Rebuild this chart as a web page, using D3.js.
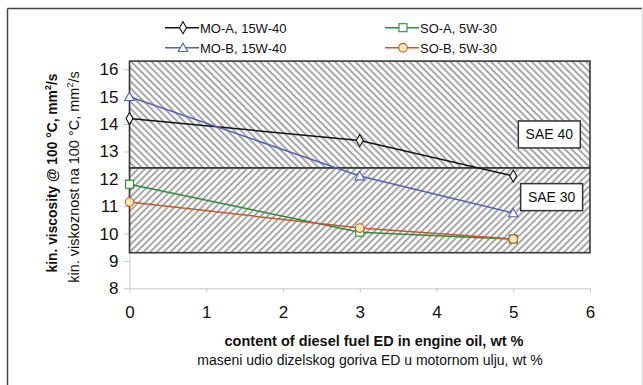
<!DOCTYPE html>
<html>
<head>
<meta charset="utf-8">
<script src="https://cdn.jsdelivr.net/npm/d3@7"></script>
<style>
	body { margin: 0; background: #fff; }
	text { font-family: 'Liberation Sans', Arial, sans-serif; fill: #111; }
</style>
</head>
<body>
<div id="chart"></div>
<script>
// series values (x = wt % of diesel fuel)
const xValues = [0, 3, 5];
const moA = [14.2, 13.4, 12.1];
const moB = [15.0, 12.1, 10.75];
const soA = [11.8, 10.05, 9.8];
const soB = [11.15, 10.2, 9.8];
const seriesNames = ['MO-A, 15W-40', 'MO-B, 15W-40', 'SO-A, 5W-30', 'SO-B, 5W-30'];
const xTicks = [0, 1, 2, 3, 4, 5, 6];
const yTicks = [8, 9, 10, 11, 12, 13, 14, 15, 16];
// SAE grade bands (viscosity limits)
const sae30 = [9.3, 12.4];
const sae40 = [12.4, 16.3];
const bandLabels = ['SAE 30', 'SAE 40'];

var viscChart = function() {
	'use strict';
	let chart = {};
	let svg;
	const width = 643;
	const height = 385;
	const plot = { left: 129.5, right: 590, top: 69.3, bottom: 288.3 };
	const gridColor = '#c8c8c8';
	const hatchColor = '#9a9a9a';
	const borderColor = '#3a3a3a';

	const x = d3.scaleLinear().domain([0, 6]).range([plot.left, plot.right]);
	const y = d3.scaleLinear().domain([8, 16]).range([plot.bottom, plot.top]);

	function drawSvg() {
		d3.selectAll('#chart svg').remove();
		svg = d3.select('#chart').append('svg')
			.attr('width', width)
			.attr('height', height);
		svg.append('rect').attr('width', width).attr('height', height).attr('fill', '#fff');
	}

	function addPattern(id, angle) {
		let defs = svg.select('defs').empty() ? svg.append('defs') : svg.select('defs');
		defs.append('pattern')
			.attr('id', id)
			.attr('patternUnits', 'userSpaceOnUse')
			.attr('width', 4.8).attr('height', 4.8)
			.attr('patternTransform', 'rotate(' + angle + ')')
			.append('line')
			.attr('x1', 1.2).attr('y1', 0)
			.attr('x2', 1.2).attr('y2', 4.8)
			.style('stroke', hatchColor)
			.style('stroke-width', 1.8);
	}

	function drawFrame() {
		svg.append('line').attr('x1', 7.5).attr('y1', 8.5).attr('x2', 642).attr('y2', 8.5)
			.style('stroke', '#444').style('stroke-width', 1.5);
		svg.append('line').attr('x1', 7.5).attr('y1', 8.5).attr('x2', 7.5).attr('y2', height)
			.style('stroke', '#444').style('stroke-width', 1.5);
		svg.append('line').attr('x1', 642).attr('y1', 8.5).attr('x2', 642).attr('y2', height)
			.style('stroke', '#d0d0d0').style('stroke-width', 1);
	}

	function drawAxes() {
		// x axis
		let gx = svg.append('g')
			.attr('transform', 'translate(0,' + plot.bottom + ')')
			.call(d3.axisBottom(x).tickValues(xTicks).tickFormat(d3.format('d'))
				.tickSize(4).tickSizeOuter(0).tickPadding(14));
		// y axis
		let gy = svg.append('g')
			.attr('transform', 'translate(' + plot.left + ',0)')
			.call(d3.axisLeft(y).tickValues(yTicks).tickSize(6).tickSizeOuter(0).tickPadding(5));
		[gx, gy].forEach(function (g) {
			g.select('.domain').style('stroke', gridColor);
			g.selectAll('.tick line').style('stroke', gridColor);
			g.selectAll('.tick text')
				.style('font-size', '17px')
				.style('font-family', "'Liberation Sans', Arial, sans-serif")
				.attr('fill', '#111');
		});
	}

	function drawBands() {
		addPattern('hatch40', -45);
		addPattern('hatch30', 45);
		[[sae40, 'hatch40'], [sae30, 'hatch30']].forEach(function (b) {
			svg.append('rect')
				.attr('x', x(0)).attr('y', y(b[0][1]))
				.attr('width', x(6) - x(0))
				.attr('height', y(b[0][0]) - y(b[0][1]))
				.attr('fill', 'url(#' + b[1] + ')')
				.style('stroke', borderColor)
				.style('stroke-width', 1.6);
		});
	}

	function drawBandLabel(label, cx, cy) {
		const _w = 62;
		const _h = 27;
		svg.append('rect')
			.attr('x', x(cx) - _w / 2).attr('y', y(cy) - _h / 2)
			.attr('width', _w).attr('height', _h)
			.attr('fill', '#fff')
			.style('stroke', '#333').style('stroke-width', 1.5);
		svg.append('text')
			.text(label)
			.attr('x', x(cx)).attr('y', y(cy) + 5)
			.style('text-anchor', 'middle')
			.style('font-size', '14px');
	}

	function marker(g, shape, cx, cy, stroke, fill) {
		if (shape === 'diamond') {
			g.append('path').attr('d', d3.symbol(d3.symbolDiamond, 42)())
				.attr('transform', 'translate(' + cx + ',' + cy + ')');
		} else if (shape === 'triangle') {
			g.append('path').attr('d', d3.symbol(d3.symbolTriangle, 40)())
				.attr('transform', 'translate(' + cx + ',' + (cy + 1) + ')');
		} else if (shape === 'square') {
			g.append('rect').attr('x', cx - 4).attr('y', cy - 4).attr('width', 8).attr('height', 8);
		} else {
			g.append('circle').attr('cx', cx).attr('cy', cy).attr('r', 4.3);
		}
		g.selectAll('*').attr('fill', fill).style('stroke', stroke).style('stroke-width', 1.1);
	}

	function drawSeries(values, color, shape, fill) {
		let line = d3.line().x(function (d, i) { return x(xValues[i]); }).y(function (d) { return y(d); });
		svg.append('path')
			.datum(values)
			.attr('d', line)
			.attr('fill', 'none')
			.style('stroke', color)
			.style('stroke-width', 1.5);
		values.forEach(function (v, i) {
			marker(svg.append('g'), shape, x(xValues[i]), y(v), color, fill);
		});
	}

	function drawLegend(items) {
		items.forEach(function (it) {
			svg.append('line')
				.attr('x1', it.lx).attr('y1', it.ly).attr('x2', it.lx + 34).attr('y2', it.ly)
				.style('stroke', it.color).style('stroke-width', 1.5);
			marker(svg.append('g'), it.shape, it.lx + 18, it.ly, it.color, it.fill);
			svg.append('text')
				.text(it.name)
				.attr('x', it.lx + 35).attr('y', it.ly + 5)
				.style('font-size', '13px');
		});
	}

	function drawTitles() {
		svg.append('text')
			.text('content of diesel fuel ED in engine oil, wt %')
			.attr('x', 374).attr('y', 346)
			.style('text-anchor', 'middle')
			.style('font-size', '14.5px').style('font-weight', 'bold');
		svg.append('text')
			.text('maseni udio dizelskog goriva ED u motornom ulju, wt %')
			.attr('x', 370).attr('y', 365)
			.style('text-anchor', 'middle')
			.style('font-size', '14px');

		let t1 = svg.append('text')
			.attr('transform', 'translate(57,173) rotate(-90)')
			.style('text-anchor', 'middle')
			.style('font-size', '13.8px').style('font-weight', 'bold');
		t1.append('tspan').text('kin. viscosity @ 100 °C, mm');
		t1.append('tspan').text('2').attr('dy', -6).style('font-size', '9px');
		t1.append('tspan').text('/s').attr('dy', 6);

		let t2 = svg.append('text')
			.attr('transform', 'translate(79,177) rotate(-90)')
			.style('text-anchor', 'middle')
			.style('font-size', '14.5px');
		t2.append('tspan').text('kin. viskoznost na 100 °C, mm');
		t2.append('tspan').text('2').attr('dy', -6).style('font-size', '9px');
		t2.append('tspan').text('/s').attr('dy', 6);
	}

	chart.render = function () {
		drawSvg();
		drawFrame();
		drawAxes();
		drawBands();
		drawBandLabel(bandLabels[1], 5.47, 13.62);
		drawBandLabel(bandLabels[0], 5.5, 11.33);
		drawSeries(moA, '#111111', 'diamond', '#f4f4ee');
		drawSeries(moB, '#5561b4', 'triangle', '#ffffff');
		drawSeries(soA, '#2f8a3a', 'square', '#f6f6e8');
		drawSeries(soB, '#c05a30', 'circle', '#f3e7b4');
		drawLegend([
			{ name: seriesNames[0], color: '#111111', shape: 'diamond', fill: '#ffffff', lx: 165, ly: 27.7 },
			{ name: seriesNames[1], color: '#5561b4', shape: 'triangle', fill: '#ffffff', lx: 165, ly: 47.7 },
			{ name: seriesNames[2], color: '#2f8a3a', shape: 'square', fill: '#ffffff', lx: 385, ly: 27.7 },
			{ name: seriesNames[3], color: '#c05a30', shape: 'circle', fill: '#f3e7b4', lx: 385, ly: 47.7 }
		]);
		drawTitles();
	};

	return chart;
};

viscChart().render();
</script>
</body>
</html>
